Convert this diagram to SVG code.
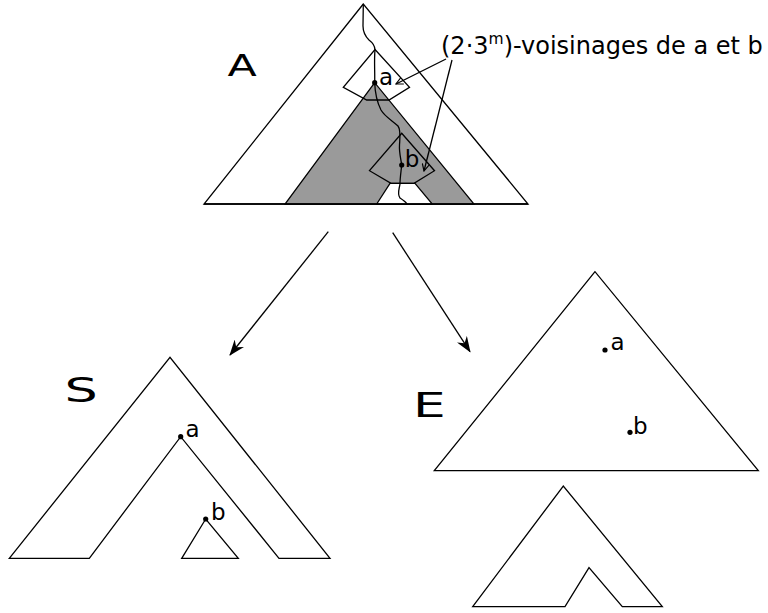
<svg xmlns="http://www.w3.org/2000/svg" width="768" height="613" viewBox="0 0 768 613">
<style>
.ln{fill:none;stroke:#000;stroke-width:1.3;stroke-linejoin:miter}
.sh{fill:#fff;stroke:#000;stroke-width:1.3}
.t{font-family:"DejaVu Sans",Verdana,sans-serif;font-size:23px;fill:#000}
.big{font-family:"DejaVu Sans",Verdana,sans-serif;fill:#000}
</style>
<defs>
<marker id="big" viewBox="0 0 16 12" refX="15" refY="6" markerWidth="16" markerHeight="12" markerUnits="userSpaceOnUse" orient="auto">
<path d="M0,0 L16,6 L0,12 L5,6 z" fill="#000"/>
</marker>
<marker id="small" viewBox="0 0 8 8" refX="7" refY="4" markerWidth="8" markerHeight="8" markerUnits="userSpaceOnUse" orient="auto">
<path d="M0,0.5 L7,4 L0,7.5" fill="none" stroke="#000" stroke-width="1.2"/>
</marker>
</defs>

<g id="tree-A">
<polygon class="sh" points="363.3,4 204,204 528,204"/>
<polygon points="374.7,82.7 285,204 474,204" fill="#9a9a9a" stroke="#000" stroke-width="1.3"/>
<polygon points="390,183.3 415,183.3 432.3,204 376.7,204" fill="#fff" stroke="#000" stroke-width="1.3"/>
<line class="ln" x1="204" y1="204" x2="528" y2="204"/>
<polygon class="ln" points="375,49.5 409.5,87.3 389,100 366.7,100 343.3,87.3"/>
<polygon class="ln" points="401.7,133.3 434.5,170.7 414,183.3 391,183.3 369.5,170.7"/>
<path class="ln" d="M363.3,4 L363,26 C363,32 366,37 369,40 C373,43 375,46 375,50 C374,60 375,72 374.7,82.7 C375,92 377,102 381,110 C385,117 393,121 398,126 C401,130 400,137 399.5,145 C399,153 401,159 401.7,165 C401,172 400,178 400,184 C399,190 397,194 400,198 C403,200 406,202 407,204"/>
<circle cx="374.7" cy="82.7" r="2.6"/>
<circle cx="401.7" cy="165" r="2.6"/>
<text class="t" x="379" y="84.5">a</text>
<text class="t" x="404.7" y="166.5">b</text>
<text class="big" font-size="31" transform="translate(227.5,76) scale(1.38,1)">A</text>
</g>

<g id="label">
<text class="t" style="font-size:24px" x="441" y="53.5">(2·3<tspan font-size="15.5" dy="-9.5">m</tspan><tspan dy="9.5">)-voisinages de a et b</tspan></text>
</g>

<g id="tree-S">
<polygon class="sh" points="9.3,558.3 170,357.3 330,558.3 279,558.3 180.7,436.7 89.3,558.3"/>
<polygon class="sh" points="205.7,519 181.7,558.3 238.3,558.3"/>
<circle cx="180.7" cy="436.7" r="2.6"/>
<circle cx="205.7" cy="519" r="2.6"/>
<text class="t" x="185.5" y="436.7">a</text>
<text class="t" x="211" y="520">b</text>
<text class="big" font-size="34" transform="translate(64.5,401.5) scale(1.54,1)">S</text>
</g>

<g id="tree-E">
<polygon class="sh" points="595,271.7 434.3,470.7 758.3,470.7"/>
<circle cx="605" cy="350" r="2.6"/>
<circle cx="630" cy="432.3" r="2.6"/>
<text class="t" x="610.5" y="350">a</text>
<text class="t" x="633" y="434">b</text>
<text class="big" font-size="34" transform="translate(413,416.7) scale(1.52,1)">E</text>
</g>

<g id="tree-E2">
<polygon class="sh" points="472.7,606.7 563.3,486 662.3,606.7 622.3,606.7 589,567.7 565,606.7"/>
</g>

<g id="connectors">
<line class="ln" x1="446" y1="59" x2="396" y2="84" marker-end="url(#small)"/>
<line class="ln" x1="452" y1="60" x2="424" y2="171" marker-end="url(#small)"/>
<line class="ln" x1="328.3" y1="231.7" x2="230" y2="355" marker-end="url(#big)"/>
<line class="ln" x1="392.7" y1="232.7" x2="470" y2="351.7" marker-end="url(#big)"/>
</g>
</svg>
